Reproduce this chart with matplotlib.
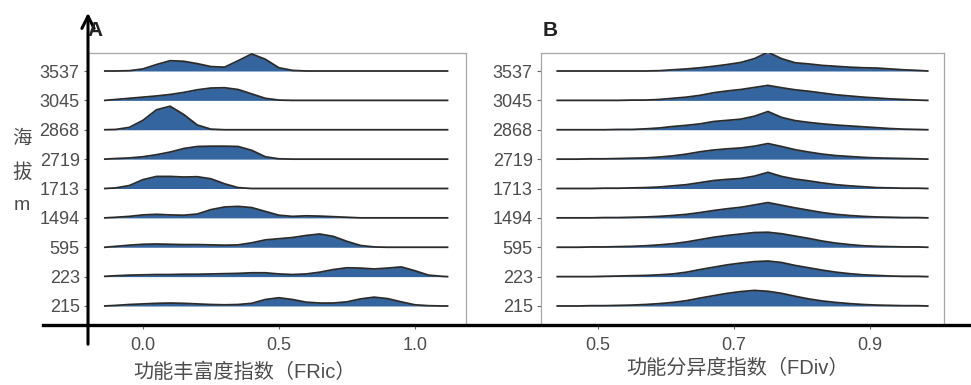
import matplotlib
matplotlib.use("Agg")
import matplotlib.pyplot as plt
from matplotlib.patches import FancyArrowPatch
from matplotlib.lines import Line2D
import numpy as np

plt.rcParams['font.family'] = ['Liberation Sans', 'Noto Sans CJK SC', 'DejaVu Sans']

# elevation groups, bottom to top
altitudes = ['215', '223', '595', '1494', '1713', '2719', '2868', '3045', '3537']

# panel A: FRic density ridges (heights in row units)
fric_x = [-0.14, -0.1, -0.05, 0.0, 0.05, 0.1, 0.15, 0.2, 0.25, 0.3, 0.35, 0.4, 0.45,
          0.5, 0.55, 0.6, 0.65, 0.7, 0.75, 0.8, 0.85, 0.9, 0.95, 1.0, 1.05, 1.1, 1.12]
fric_215 = [0, 0.02, 0.05, 0.07, 0.09, 0.1, 0.09, 0.07, 0.05, 0.04, 0.05, 0.09, 0.22,
            0.28, 0.22, 0.13, 0.1, 0.1, 0.14, 0.24, 0.3, 0.25, 0.14, 0.04, 0.01, 0, 0]
fric_223 = [0.01, 0.03, 0.05, 0.06, 0.07, 0.07, 0.08, 0.08, 0.09, 0.1, 0.11, 0.13, 0.13,
            0.09, 0.07, 0.09, 0.15, 0.24, 0.3, 0.29, 0.26, 0.29, 0.33, 0.2, 0.05, 0.01, 0]
fric_595 = [0, 0.03, 0.07, 0.1, 0.11, 0.1, 0.09, 0.09, 0.08, 0.07, 0.08, 0.15, 0.25,
            0.29, 0.33, 0.4, 0.45, 0.37, 0.2, 0.06, 0.01, 0, 0, 0, 0, 0, 0]
fric_1494 = [0, 0.02, 0.05, 0.1, 0.12, 0.1, 0.09, 0.13, 0.28, 0.37, 0.39, 0.35, 0.22,
             0.09, 0.05, 0.07, 0.06, 0.04, 0.02, 0, 0, 0, 0, 0, 0, 0, 0]
fric_1713 = [0, 0.02, 0.1, 0.3, 0.41, 0.41, 0.39, 0.4, 0.33, 0.16, 0.03, 0, 0,
             0, 0, 0, 0, 0, 0, 0, 0, 0, 0, 0, 0, 0, 0]
fric_2719 = [0, 0.02, 0.04, 0.08, 0.15, 0.24, 0.36, 0.43, 0.44, 0.44, 0.43, 0.3, 0.08,
             0.01, 0, 0, 0, 0, 0, 0, 0, 0, 0, 0, 0, 0, 0]
fric_2868 = [0, 0.01, 0.08, 0.32, 0.68, 0.8, 0.52, 0.16, 0.02, 0, 0, 0, 0,
             0, 0, 0, 0, 0, 0, 0, 0, 0, 0, 0, 0, 0, 0]
fric_3045 = [0, 0.03, 0.07, 0.11, 0.15, 0.2, 0.27, 0.36, 0.42, 0.43, 0.37, 0.22, 0.07,
             0.01, 0, 0, 0, 0, 0, 0, 0, 0, 0, 0, 0, 0, 0]
fric_3537 = [0, 0, 0.01, 0.07, 0.22, 0.35, 0.33, 0.25, 0.15, 0.13, 0.35, 0.58, 0.4,
             0.11, 0.02, 0, 0, 0, 0, 0, 0, 0, 0, 0, 0, 0, 0]

# panel B: FDiv density ridges
fdiv_x = [0.44, 0.47, 0.49, 0.51, 0.53, 0.55, 0.57, 0.59, 0.61, 0.63, 0.65, 0.67, 0.69, 0.71,
          0.73, 0.75, 0.77, 0.79, 0.81, 0.83, 0.85, 0.87, 0.89, 0.91, 0.93, 0.95, 0.97, 0.985]
fdiv_215 = [0, 0, 0.01, 0.01, 0.02, 0.03, 0.05, 0.08, 0.12, 0.18, 0.27, 0.35, 0.43, 0.49,
            0.53, 0.5, 0.43, 0.33, 0.24, 0.17, 0.12, 0.08, 0.05, 0.03, 0.02, 0.01, 0.01, 0]
fdiv_223 = [0, 0, 0, 0.01, 0.02, 0.03, 0.04, 0.06, 0.09, 0.15, 0.24, 0.32, 0.4, 0.46,
            0.51, 0.53, 0.48, 0.38, 0.3, 0.22, 0.15, 0.1, 0.06, 0.04, 0.02, 0.01, 0.01, 0]
fdiv_595 = [0, 0, 0.01, 0.01, 0.02, 0.03, 0.05, 0.08, 0.12, 0.18, 0.26, 0.34, 0.4, 0.45,
            0.5, 0.51, 0.46, 0.38, 0.3, 0.21, 0.14, 0.09, 0.05, 0.03, 0.02, 0.01, 0.01, 0]
fdiv_1494 = [0, 0, 0, 0.01, 0.01, 0.02, 0.03, 0.05, 0.08, 0.12, 0.18, 0.25, 0.31, 0.36,
             0.44, 0.52, 0.43, 0.34, 0.26, 0.18, 0.12, 0.08, 0.05, 0.03, 0.02, 0.01, 0.01, 0]
fdiv_1713 = [0, 0, 0, 0.01, 0.01, 0.02, 0.03, 0.05, 0.09, 0.13, 0.2, 0.27, 0.31, 0.34,
             0.42, 0.55, 0.41, 0.32, 0.26, 0.19, 0.13, 0.09, 0.06, 0.03, 0.02, 0.01, 0.01, 0]
fdiv_2719 = [0, 0, 0.01, 0.01, 0.02, 0.03, 0.04, 0.07, 0.11, 0.17, 0.25, 0.31, 0.35, 0.38,
             0.44, 0.53, 0.43, 0.32, 0.24, 0.17, 0.12, 0.09, 0.06, 0.04, 0.03, 0.02, 0.01, 0]
fdiv_2868 = [0, 0, 0, 0, 0.01, 0.01, 0.03, 0.06, 0.11, 0.15, 0.2, 0.28, 0.32, 0.36,
             0.46, 0.62, 0.42, 0.31, 0.25, 0.2, 0.16, 0.13, 0.1, 0.07, 0.04, 0.02, 0.01, 0]
fdiv_3045 = [0, 0, 0, 0, 0, 0.01, 0.01, 0.03, 0.07, 0.11, 0.17, 0.26, 0.32, 0.37,
             0.44, 0.51, 0.43, 0.36, 0.31, 0.25, 0.19, 0.15, 0.11, 0.08, 0.05, 0.03, 0.01, 0]
fdiv_3537 = [0, 0, 0, 0, 0, 0, 0, 0.01, 0.04, 0.07, 0.11, 0.16, 0.22, 0.29,
             0.42, 0.64, 0.42, 0.28, 0.24, 0.19, 0.16, 0.13, 0.11, 0.1, 0.07, 0.04, 0.02, 0]

fric = [fric_215, fric_223, fric_595, fric_1494, fric_1713, fric_2719, fric_2868, fric_3045, fric_3537]
fdiv = [fdiv_215, fdiv_223, fdiv_595, fdiv_1494, fdiv_1713, fdiv_2719, fdiv_2868, fdiv_3045, fdiv_3537]

fill_col = '#34659e'
grey = '#4d4d4d'

fig = plt.figure(figsize=(9.71, 3.85), dpi=100)
axA = fig.add_axes([88 / 971, 1 - 325 / 385, 378 / 971, 272 / 385])
axB = fig.add_axes([541 / 971, 1 - 325 / 385, 403 / 971, 272 / 385])


def ridges(ax, xs, rows):
    x = np.array(xs)
    # top rows first so lower ridges sit on top
    for i in range(len(rows) - 1, -1, -1):
        h = np.array(rows[i])
        ax.fill_between(x, i, i + h, color=fill_col, lw=0, zorder=2 * (9 - i))
        ax.plot(x, i + h, color='#2b2b2b', lw=1.3, zorder=2 * (9 - i) + 1,
                solid_joinstyle='round')
    ax.set_yticks(range(len(altitudes)))
    ax.set_yticklabels(altitudes)
    ax.set_ylim(-0.647, 8.613)
    for s in ax.spines.values():
        s.set_color('#a6a6a6')
        s.set_linewidth(0.9)
    ax.tick_params(colors='#666666', labelcolor=grey, labelsize=13, length=3, width=0.8, pad=3)
    ax.tick_params(axis='x', pad=6)


ridges(axA, fric_x, fric)
axA.set_xlim(-0.202, 1.188)
axA.set_xticks([0.0, 0.5, 1.0])
axA.set_xticklabels(['0.0', '0.5', '1.0'])

ridges(axB, fdiv_x, fdiv)
axB.set_xlim(0.416, 1.009)
axB.set_xticks([0.5, 0.7, 0.9])
axB.set_xticklabels(['0.5', '0.7', '0.9'])

fig.text(245 / 971, 1 - 372 / 385, '功能丰富度指数（FRic）', ha='center', va='center',
         fontsize=14.5, color=grey)
fig.text(738 / 971, 1 - 368 / 385, '功能分异度指数（FDiv）', ha='center', va='center',
         fontsize=14.5, color=grey)
fig.text(22 / 971, 1 - 172 / 385, '海\n拔\nm', ha='center', va='center',
         fontsize=14, color=grey, linespacing=2.1)

fig.text(95 / 971, 1 - 30 / 385, 'A', ha='center', va='center', fontsize=15,
         fontweight='bold', color='#222222')
fig.text(550 / 971, 1 - 30 / 385, 'B', ha='center', va='center', fontsize=15,
         fontweight='bold', color='#222222')

# thick black axis overlay drawn on top of the figure
fig.add_artist(FancyArrowPatch((88 / 971, 1 - 347 / 385), (88 / 971, 1 - 10 / 385),
                               transform=fig.transFigure, arrowstyle='->',
                               mutation_scale=22, lw=2.2, color='black'))
fig.add_artist(Line2D([43 / 971, 1.0], [1 - 325 / 385, 1 - 325 / 385],
                      transform=fig.transFigure, lw=2.4, color='black'))

fig.savefig('out.png', dpi=100)
